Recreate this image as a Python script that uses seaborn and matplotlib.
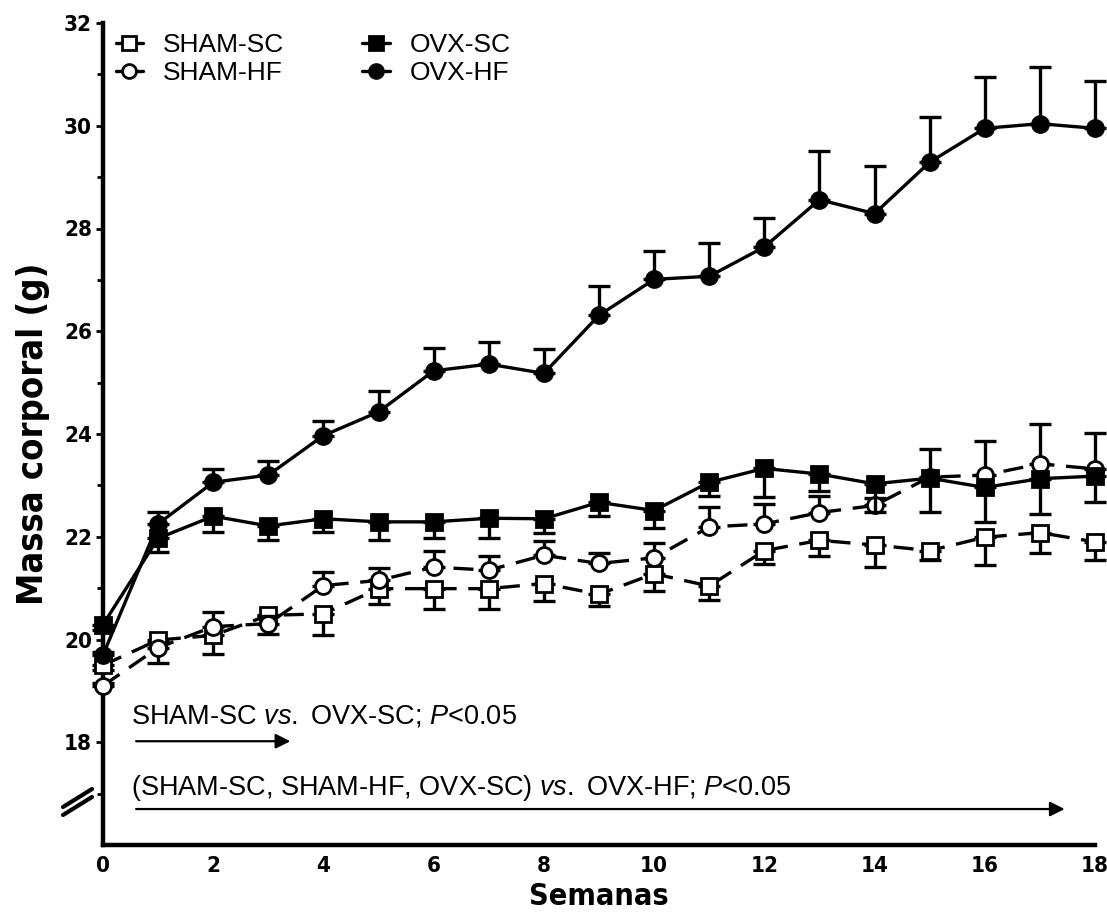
import numpy as np
import pandas as pd
import matplotlib
matplotlib.use("Agg")
import matplotlib.pyplot as plt
from matplotlib.lines import Line2D
from matplotlib import font_manager
import seaborn as sns

weeks = list(range(19))

sham_sc_mean = [19.5, 19.99, 20.08, 20.47, 20.5, 20.99, 20.99, 20.99, 21.09, 20.88, 21.28, 21.04,
                21.73, 21.93, 21.84, 21.73, 21.99, 22.08, 21.9]
sham_sc_sem = [0.1, 0.44, 0.37, 0.37, 0.42, 0.29, 0.39, 0.39, 0.35, 0.23, 0.34, 0.28,
               0.27, 0.3, 0.43, 0.19, 0.54, 0.39, 0.36]

sham_hf_mean = [19.1, 19.84, 20.25, 20.31, 21.05, 21.15, 21.41, 21.35, 21.64, 21.48, 21.59, 22.19,
                22.25, 22.47, 22.61, 23.16, 23.2, 23.42, 23.32]
sham_hf_sem = [0.05, 0.1, 0.29, 0.15, 0.26, 0.25, 0.31, 0.27, 0.27, 0.21, 0.29, 0.39,
               0.39, 0.33, 0.15, 0.54, 0.67, 0.77, 0.7]

ovx_sc_mean = [20.29, 21.97, 22.4, 22.21, 22.35, 22.29, 22.29, 22.36, 22.35, 22.67, 22.51, 23.06,
               23.33, 23.22, 23.03, 23.14, 22.96, 23.13, 23.18]
ovx_sc_sem = [0.1, 0.27, 0.31, 0.27, 0.26, 0.35, 0.32, 0.39, 0.27, 0.27, 0.34, 0.26,
              0.56, 0.32, 0.55, 0.66, 0.68, 0.68, 0.51]

ovx_hf_mean = [19.7, 22.25, 23.06, 23.2, 23.97, 24.43, 25.23, 25.36, 25.18, 26.31, 27.01, 27.07,
               27.64, 28.56, 28.29, 29.29, 29.95, 30.04, 29.95]
ovx_hf_sem = [0.05, 0.23, 0.25, 0.28, 0.29, 0.4, 0.44, 0.44, 0.48, 0.57, 0.56, 0.64,
              0.57, 0.95, 0.92, 0.89, 1.0, 1.1, 0.92]

groups = ["SHAM-SC", "SHAM-HF", "OVX-SC", "OVX-HF"]
y_ticks = [18, 20, 22, 24, 26, 28, 30, 32]

sns.set_theme(style="white")
plt.rcParams["font.family"] = ["Liberation Sans", "DejaVu Sans"]
plt.rcParams["mathtext.fontset"] = "custom"
plt.rcParams["mathtext.rm"] = "Liberation Sans"
plt.rcParams["mathtext.it"] = "Liberation Sans:italic"
for k in ["text.color", "axes.labelcolor", "xtick.color", "ytick.color", "axes.edgecolor"]:
    plt.rcParams[k] = "black"

# condensed bold font for axis titles / tick labels, if available
narrow = None
for f in font_manager.fontManager.ttflist:
    n = f.name.lower()
    if ("narrow" in n or "condensed" in n or f.stretch in ("condensed", "semi-condensed")) and f.weight in ("bold", 700):
        narrow = f.fname
        break
if narrow is None:
    for f in font_manager.fontManager.ttflist:
        if "condensed" in f.fname.lower() and "bold" in f.fname.lower():
            narrow = f.fname
            break


def narrow_fp(size):
    if narrow:
        return font_manager.FontProperties(fname=narrow, size=size)
    return font_manager.FontProperties(family="Liberation Sans", weight="bold", size=size)


fig = plt.figure(figsize=(11.07, 9.16), dpi=100)
ax = fig.add_axes([103 / 1107, 1 - 845 / 916, (1095 - 103) / 1107, (845 - 23) / 916])

series = {
    "SHAM-SC": (sham_sc_mean, sham_sc_sem, "s", "white", (0, (6, 3.5)), "down"),
    "SHAM-HF": (sham_hf_mean, sham_hf_sem, "o", "white", (0, (6, 3.5)), "up"),
    "OVX-SC": (ovx_sc_mean, ovx_sc_sem, "s", "black", "-", "down"),
    "OVX-HF": (ovx_hf_mean, ovx_hf_sem, "o", "black", "-", "up"),
}

frames = []
for g in groups:
    m, s = series[g][0], series[g][1]
    frames.append(pd.DataFrame({"week": weeks, "mass": m, "sem": s, "group": g}))
df = pd.concat(frames, ignore_index=True)

handles = {}
for i, g in enumerate(groups):
    _, _, mk, fc, ls, direction = series[g]
    sub = df[df["group"] == g]
    sem = sub["sem"].to_numpy()
    zero = np.zeros_like(sem)
    yerr = [sem, zero] if direction == "down" else [zero, sem]
    ax.errorbar(sub["week"], sub["mass"], yerr=yerr, fmt="none", ecolor="black",
                elinewidth=2.4, capsize=8, capthick=2.4, zorder=2 + i, clip_on=False)
    sns.lineplot(data=sub, x="week", y="mass", ax=ax, color="black", linewidth=2.4,
                 linestyle=ls, marker=mk, markersize=11.5, markerfacecolor=fc,
                 markeredgecolor="black", markeredgewidth=2.0, errorbar=None,
                 zorder=3 + i, legend=False, clip_on=False)
    handles[g] = Line2D([], [], color="black", linewidth=2.4, marker=mk, markersize=10,
                        markerfacecolor=fc, markeredgecolor="black", markeredgewidth=2.0)

ax.set_xlim(0, 18)
ax.set_ylim(16, 32)
ax.set_xticks(weeks, minor=False)
ax.set_xticklabels([str(w) if w % 2 == 0 else "" for w in weeks])
ax.set_yticks(y_ticks)
ax.set_yticks(list(range(17, 32, 2)), minor=True)
ax.set_yticklabels([str(v) for v in y_ticks])

for side in ["top", "right"]:
    ax.spines[side].set_visible(False)
for side in ["left", "bottom"]:
    ax.spines[side].set_linewidth(3.2)
    ax.spines[side].set_color("black")

ax.tick_params(axis="x", direction="in", length=5, width=2, pad=8)
ax.tick_params(axis="y", which="both", direction="out", length=5, width=2, pad=3, left=True)
ax.tick_params(axis="y", which="minor", length=4, width=2)
for lab in ax.get_xticklabels():
    lab.set_fontproperties(narrow_fp(16))
for lab in ax.get_yticklabels():
    lab.set_fontproperties(narrow_fp(16))

ax.set_xlabel("Semanas", fontproperties=narrow_fp(22), labelpad=4)
ax.set_ylabel("Massa corporal (g)", fontproperties=narrow_fp(26), labelpad=10)

ax.legend([handles[g] for g in groups], groups, ncol=2, loc="upper left",
          bbox_to_anchor=(-0.006, 1.01), frameon=False, fontsize=19, handlelength=1.05,
          columnspacing=2.95, handletextpad=0.75, labelspacing=0.15, borderaxespad=0.3)

ax.text(0.5, 18.37, "SHAM-SC $\\mathit{vs.}$ OVX-SC; $\\mathit{P}$<0.05", fontsize=19.5, va="baseline")
ax.annotate("", xy=(3.45, 18.02), xytext=(0.55, 18.02),
            arrowprops=dict(arrowstyle="-|>", lw=1.6, color="black", mutation_scale=22))
ax.text(0.5, 16.97, "(SHAM-SC, SHAM-HF, OVX-SC) $\\mathit{vs.}$ OVX-HF; $\\mathit{P}$<0.05",
        fontsize=19.5, va="baseline")
ax.annotate("", xy=(17.5, 16.7), xytext=(0.55, 16.7),
            arrowprops=dict(arrowstyle="-|>", lw=1.6, color="black", mutation_scale=22))

# axis break marks
for dy in (0, 8):
    fig.add_artist(Line2D([63 / 1107, 92 / 1107], [1 - (815 + dy - 8) / 916, 1 - (797 + dy - 8) / 916],
                          color="black", linewidth=3))

fig.savefig("out.png", dpi=100)
